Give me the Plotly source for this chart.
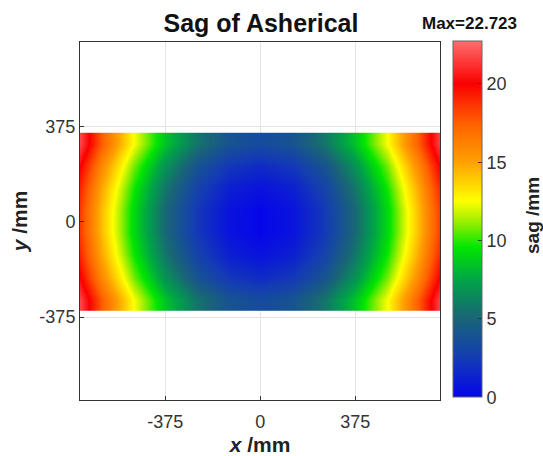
import plotly.graph_objects as go

# grid cell centres (mm)
x_mm = [-750, -625, -500, -375, -250, -125, 0, 125, 250, 375, 500, 625, 750]
y_mm = [-306.25, -218.75, -131.25, -43.75, 43.75, 131.25, 218.75, 306.25]

# sag values (mm), rows follow y_mm
row_306 = [23.70, 17.49, 12.41, 8.46, 5.64, 3.95, 3.39, 3.95, 5.64, 8.46, 12.41, 17.49, 23.70]
row_219 = [22.04, 15.83, 10.75, 6.80, 3.98, 2.29, 1.73, 2.29, 3.98, 6.80, 10.75, 15.83, 22.04]
row_131 = [20.93, 14.72, 9.65, 5.70, 2.88, 1.19, 0.62, 1.19, 2.88, 5.70, 9.65, 14.72, 20.93]
row_044 = [20.38, 14.17, 9.09, 5.15, 2.33, 0.63, 0.07, 0.63, 2.33, 5.15, 9.09, 14.17, 20.38]
sag = [row_306, row_219, row_131, row_044, row_044, row_131, row_219, row_306]

sag_max = 22.723
tick_vals = [-375, 0, 375]
tick_text = ["-375", "0", "375"]
cbar_ticks = [0, 5, 10, 15, 20]

colorscale = [
    [0.000, "rgb(5,5,235)"],
    [0.110, "rgb(20,60,180)"],
    [0.220, "rgb(25,100,120)"],
    [0.330, "rgb(0,165,70)"],
    [0.420, "rgb(0,230,0)"],
    [0.500, "rgb(170,240,0)"],
    [0.550, "rgb(255,255,0)"],
    [0.660, "rgb(255,160,0)"],
    [0.770, "rgb(255,95,0)"],
    [0.880, "rgb(250,0,0)"],
    [1.000, "rgb(255,110,110)"],
]

font = "Liberation Sans, Arial, sans-serif"

fig = go.Figure(go.Heatmap(
    x=x_mm, y=y_mm, z=sag, zsmooth="best",
    zmin=0, zmax=sag_max, colorscale=colorscale,
    colorbar=dict(
        x=(453 - 80) / 360, xanchor="left", xref="paper", xpad=0,
        y=0.505, yanchor="middle", len=0.995, lenmode="fraction", ypad=0,
        thickness=29, outlinecolor="#666", outlinewidth=1,
        tickvals=cbar_ticks, ticks="inside", ticklen=4, tickcolor="#333",
        tickfont=dict(family=font, size=18, color="#333"),
    ),
))

axis_common = dict(
    tickvals=tick_vals, ticktext=tick_text, showgrid=True,
    gridcolor="#e3e3e3", gridwidth=1, zeroline=False,
    showline=True, linecolor="#333", linewidth=1, mirror=True,
    ticks="inside", ticklen=4, tickcolor="#333",
    tickfont=dict(family=font, size=18, color="#333"),
)

fig.update_layout(
    width=543, height=456,
    margin=dict(l=80, r=103, t=42, b=56, autoexpand=False),
    paper_bgcolor="white", plot_bgcolor="white",
    title=dict(text="<b>Sag of Asherical</b>", x=261 / 543, xanchor="center",
               y=1 - 23 / 456, yanchor="middle",
               font=dict(family=font, size=25, color="#111")),
    xaxis=dict(**axis_common, range=[-712, 710], ticklabelstandoff=5,
               title=dict(text="<b><i>x</i> /mm</b>", standoff=9,
                          font=dict(family=font, size=21, color="#222"))),
    yaxis=dict(**axis_common, range=[-701, 707], ticklabelstandoff=0,
               title=dict(text="<b><i>y</i> /mm</b>", standoff=6,
                          font=dict(family=font, size=21, color="#222"))),
    annotations=[
        dict(text="<b>Max=22.723</b>", xref="paper", yref="paper",
             x=(469 - 80) / 360, y=(400 - 23.5) / 358, xanchor="center", yanchor="middle",
             showarrow=False, font=dict(family=font, size=17, color="#111")),
        dict(text="<b>sag /mm</b>", xref="paper", yref="paper", textangle=-90,
             x=(532 - 80) / 360, y=(400 - 216) / 358, xanchor="center", yanchor="middle",
             showarrow=False, font=dict(family=font, size=19, color="#222")),
    ],
)

fig.write_html("out.html")
